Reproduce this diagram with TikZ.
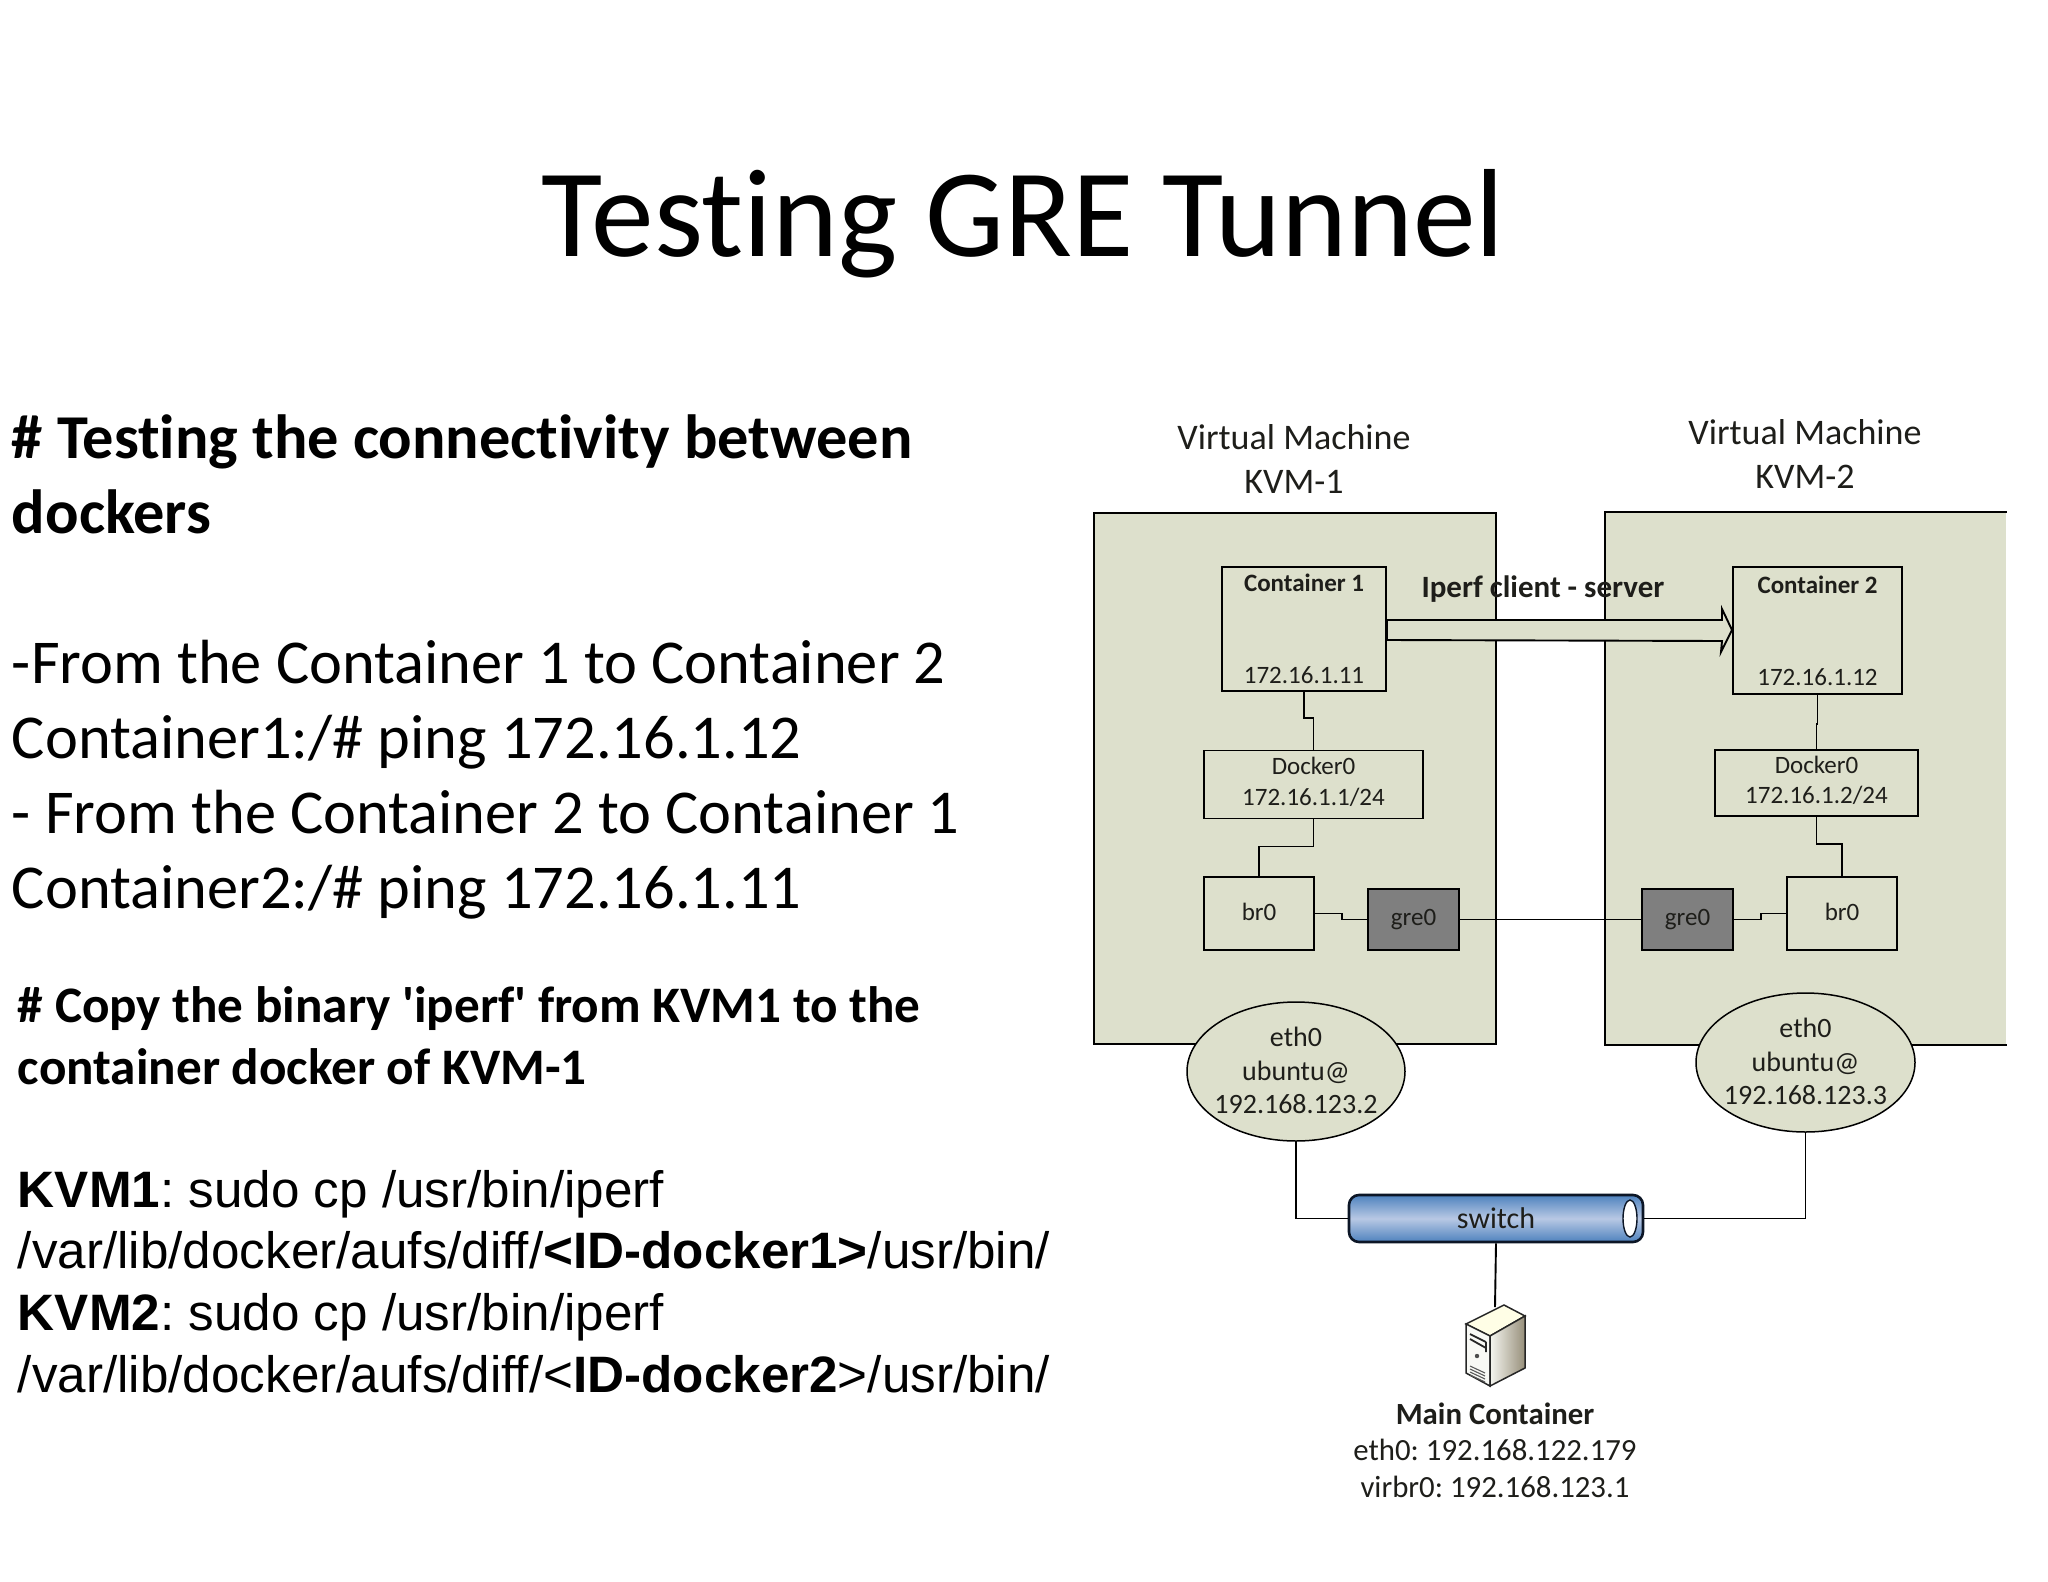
\documentclass[tikz,border=0pt]{standalone}
\usepackage{fontspec}
\setmainfont[Ligatures={NoCommon}]{Carlito}
\newfontfamily\arialfont{Liberation Sans}
\usetikzlibrary{positioning,shapes.geometric}
\frenchspacing
\definecolor{vmfill}{RGB}{221,224,204}
\definecolor{grefill}{RGB}{127,127,127}
\definecolor{diagtext}{RGB}{30,30,26}
\definecolor{tubedark}{RGB}{78,130,190}
\definecolor{tubelight}{RGB}{184,200,228}
\definecolor{tubeline}{RGB}{12,22,38}
\begin{document}
\begin{tikzpicture}[x=1pt,y=-1pt,on grid,line width=1.9pt,
                    vmbox/.style={rectangle,fill=vmfill,minimum width=402pt,minimum height=531pt,inner sep=0},
                    contbox/.style={rectangle,draw,fill=vmfill,text=diagtext,inner sep=0,align=center,
                                    font=\fontsize{25}{92}\selectfont},
                    dockbox/.style={rectangle,draw,fill=vmfill,text=diagtext,inner sep=0,align=center,
                                    minimum height=68pt,text depth=6pt,font=\fontsize{25}{30.5}\selectfont},
                    brbox/.style={rectangle,draw,fill=vmfill,text=diagtext,inner sep=0,text height=17.5pt,text depth=3.5pt,
                                  minimum width=110pt,minimum height=73pt,font=\fontsize{25}{30}\selectfont},
                    grebox/.style={rectangle,draw,fill=grefill,text=diagtext,inner sep=0,
                                   minimum width=91pt,minimum height=61pt,font=\fontsize{25}{30}\selectfont},
                    ethnode/.style={ellipse,draw,fill=vmfill,inner sep=0,line width=1.5pt,
                                    minimum width=218pt,minimum height=139pt},
                    ethtext/.style={text=diagtext,inner sep=0,align=center,yshift=1pt,font=\fontsize{28}{33.5}\selectfont},
                    vmtitle/.style={text=diagtext,inner sep=0,align=center,font=\fontsize{36}{43.5}\selectfont},
                    flow/.style={draw,fill=vmfill}]
\useasboundingbox (0,0) rectangle (2048,1582);

\node[inner sep=0,font=\fontsize{125.4}{150}\selectfont] (title) at (1023,223.5) {Testing GRE Tunnel};
\node[anchor=north west,inner sep=0,align=left,font=\fontsize{62.4}{75}\selectfont] (ping) at (11,413.3)
  {\textbf{\# Testing the connectivity between}\\
   \textbf{dockers}\\[75pt]
   -From the Container 1 to Container 2\\
   Container1:/\# ping 172.16.1.12\\
   - From the Container 2 to Container 1\\
   Container2:/\# ping 172.16.1.11};
\node[anchor=north west,inner sep=0,align=left,font=\fontsize{51.2}{62}\selectfont\bfseries] (copy) at (17,986)
  {\# Copy the binary \textquotesingle iperf\textquotesingle{} from KVM1 to the\\
   container docker of KVM-1};
\node[anchor=north west,inner sep=0,align=left,font=\fontsize{51.2}{61.7}\selectfont\arialfont] (cmd) at (17,1169)
  {\textbf{KVM1}: sudo cp /usr/bin/iperf\\
   /var/lib/docker/aufs/diff/\textbf{<ID-docker1>}/usr/bin/\\
   \textbf{KVM2}: sudo cp /usr/bin/iperf\\
   /var/lib/docker/aufs/diff/<\textbf{ID-docker2}>/usr/bin/};

\node[vmbox,draw] (vm1) at (1295,778.5) {};
\node[vmbox,minimum width=400pt] (vm2) at (1806,778.5) {};
\draw (vm2.north east) -- (vm2.north west) -- (vm2.south west) -- (vm2.south east);
\node[vmtitle] (vm1name) at (1294,459) {Virtual Machine\\KVM-1};
\node[vmtitle] (vm2name) at (1805,454) {Virtual Machine\\KVM-2};

\node[contbox,minimum width=164pt,minimum height=124pt] (cont1) at (1304,629) {\textbf{Container 1}\\172.16.1.11};
\node[dockbox,minimum width=219pt] (dock1) [below right=155.5pt and 9.5pt of cont1] {Docker0\\172.16.1.1/24};
\node[brbox] (br1) [below left=129pt and 54.5pt of dock1] {br0};
\node[grebox] (gre1) [below right=6pt and 154.5pt of br1] {gre0};
\node[ethnode,label={[ethtext]center:eth0\\ubuntu@\\192.168.123.2}] (eth1) at (1296,1071.5) {};

\node[contbox,minimum width=169pt,minimum height=127pt] (cont2) at (1817.5,630.5) {\textbf{Container 2}\\172.16.1.12};
\node[dockbox,minimum width=203pt,minimum height=66pt] (dock2) [below left=152.5pt and 1pt of cont2] {Docker0\\172.16.1.2/24};
\node[brbox] (br2) [below right=130.5pt and 25.5pt of dock2] {br0};
\node[grebox] (gre2) [below left=6pt and 154.5pt of br2] {gre0};
\node[ethnode,minimum width=219pt,label={[ethtext]center:eth0\\ubuntu@\\192.168.123.3}] (eth2) at (1805.5,1062.5) {};

\coordinate (flowA) at ([yshift=-1pt]cont1.east);
\coordinate (flowB) at (1732,630);
\draw[flow] ([yshift=10pt]flowA) -- ([xshift=-10pt,yshift=10pt]flowB) -- ([xshift=-10pt,yshift=21pt]flowB)
  -- (flowB) -- ([xshift=-11pt,yshift=-22pt]flowB) -- ([xshift=-10pt,yshift=-11pt]flowB) -- ([yshift=-10pt]flowA) -- cycle;
\node[inner sep=0,text=diagtext,font=\fontsize{31}{37}\selectfont\bfseries] (iperf) at (1543,589) {Iperf client - server};

\draw (cont1.south) -- ++(0,26) -| (dock1.north);
\draw (dock1.south) -- ++(0,27) -| (br1.north);
\draw (br1.east) -- ++(27,0) |- (gre1.west);
\draw (gre1.east) -- (gre2.west);
\draw (gre2.east) -- ++(27,0) |- (br2.west);
\draw (cont2.south) -- ++(0,29) -| (dock2.north);
\draw (dock2.south) -- ++(0,27) -| (br2.north);

\node[rectangle,rounded corners=10pt,draw=tubeline,line width=2.6pt,top color=tubedark,bottom color=tubedark,
      middle color=tubelight,text=diagtext,inner sep=0,minimum width=294pt,minimum height=47pt,
      font=\fontsize{30}{36}\selectfont] (switch) at (1496,1218.5) {switch};
\node[ellipse,draw=tubeline,fill=white,line width=1.4pt,inner sep=0,minimum width=14pt,minimum height=37pt] (hole) at (1630,1218.5) {};
\draw (eth1.south) |- (switch.west);
\draw (eth2.south) |- (switch.east);
\coordinate (srv) at (1495,1307);
\draw (switch.south) -- (srv);

\begin{scope}[line width=1.5pt,draw=black!85]
\draw[fill=white!90!yellow] (1504,1305) -- (1525,1316) -- (1490,1336) -- (1466,1324) -- cycle;
\draw[fill=white!80!vmfill] (1466,1324) -- (1490,1336) -- (1490,1386) -- (1466,1373) -- cycle;
\draw[left color=white!70!vmfill,right color=black!35!vmfill!85!brown] (1490,1336) -- (1525,1316) -- (1525,1368) -- (1490,1386) -- cycle;
\draw[line width=1.8pt] (1470,1334) -- (1486,1342) (1470,1339) -- (1486,1348) (1486,1342) -- (1486,1352);
\fill[black!70] (1477,1356) circle (2.2pt);
\draw[black!65,line width=1.1pt] (1470,1366) -- (1485,1373) (1470,1369) -- (1485,1376) (1470,1372) -- (1485,1379) (1470,1375) -- (1485,1382);
\end{scope}

\node[text=diagtext,inner sep=0,align=center,font=\fontsize{30.8}{36.5}\selectfont] (main) at (1495,1450)
  {\textbf{Main Container}\\eth0: 192.168.122.179\\virbr0: 192.168.123.1};
\end{tikzpicture}
\end{document}
